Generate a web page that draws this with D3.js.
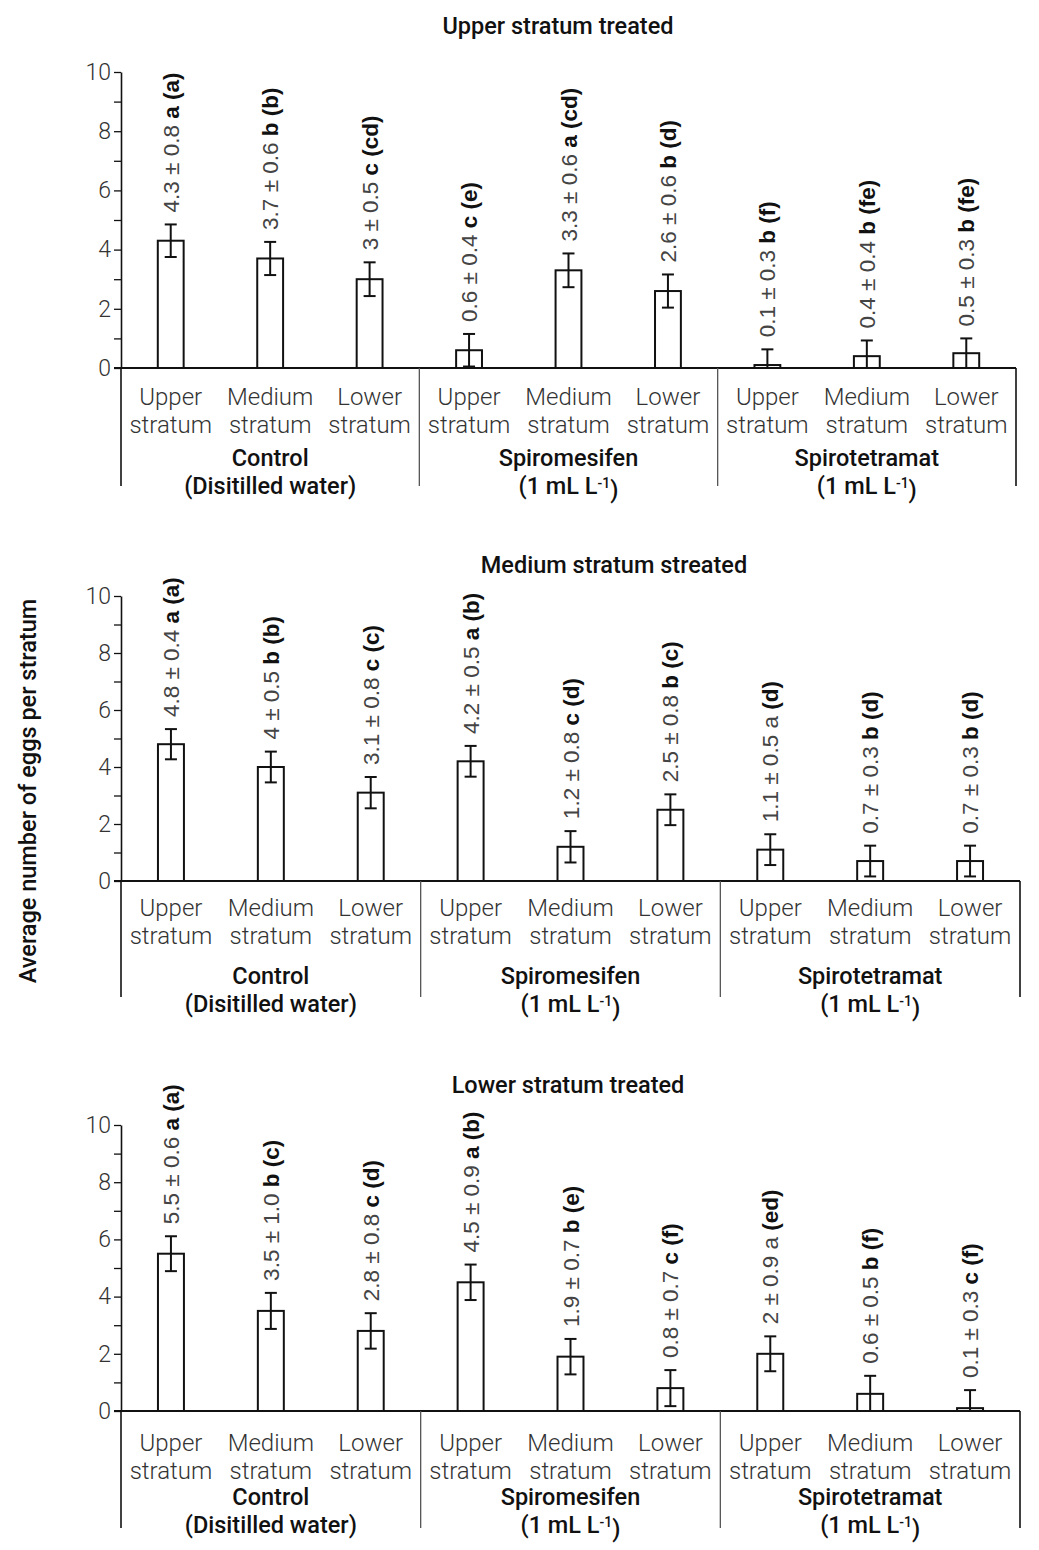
<!DOCTYPE html>
<html><head><meta charset="utf-8">
<script src="https://cdn.jsdelivr.net/npm/d3@7"></script>
<style>body{margin:0;background:#fff}</style>
</head><body>
<svg id="chart" width="1039" height="1550"></svg>
<script>
// ---------- data ----------
const panelTitles = ["Upper stratum treated", "Medium stratum streated", "Lower stratum treated"];
const strataLine1 = ["Upper", "Medium", "Lower"];
const strataLine2 = ["stratum", "stratum", "stratum"];
const treatmentNames = ["Control", "Spiromesifen", "Spirotetramat"];
const treatmentNotes = ["(Disitilled water)", "(1 mL L^-1)", "(1 mL L^-1)"];
const yTickValues = [0, 1, 2, 3, 4, 5, 6, 7, 8, 9, 10];
const yTickLabels = ["0", "", "2", "", "4", "", "6", "", "8", "", "10"];
const yAxisTitle = "Average number of eggs per stratum";

// Upper stratum treated
const meansUpper = [4.3, 3.7, 3, 0.6, 3.3, 2.6, 0.1, 0.4, 0.5];
const sdUpper = ["0.8", "0.6", "0.5", "0.4", "0.6", "0.6", "0.3", "0.4", "0.3"];
const lettersUpper = ["a", "b", "c", "c", "a", "b", "b", "b", "b"];
const groupsUpper = ["(a)", "(b)", "(cd)", "(e)", "(cd)", "(d)", "(f)", "(fe)", "(fe)"];
const boldUpper = [true, true, true, true, true, true, true, true, true];
const errBarUpper = [0.55, 0.56, 0.57, 0.55, 0.57, 0.56, 0.53, 0.53, 0.5];

// Medium stratum treated
const meansMedium = [4.8, 4, 3.1, 4.2, 1.2, 2.5, 1.1, 0.7, 0.7];
const sdMedium = ["0.4", "0.5", "0.8", "0.5", "0.8", "0.8", "0.5", "0.3", "0.3"];
const lettersMedium = ["a", "b", "c", "a", "c", "b", "a", "b", "b"];
const groupsMedium = ["(a)", "(b)", "(c)", "(b)", "(d)", "(c)", "(d)", "(d)", "(d)"];
const boldMedium = [true, true, true, true, true, true, false, true, true];
const errBarMedium = [0.53, 0.54, 0.55, 0.54, 0.55, 0.54, 0.54, 0.54, 0.54];

// Lower stratum treated
const meansLower = [5.5, 3.5, 2.8, 4.5, 1.9, 0.8, 2, 0.6, 0.1];
const sdLower = ["0.6", "1.0", "0.8", "0.9", "0.7", "0.7", "0.9", "0.5", "0.3"];
const lettersLower = ["a", "b", "c", "a", "b", "c", "a", "b", "c"];
const groupsLower = ["(a)", "(c)", "(d)", "(b)", "(e)", "(f)", "(ed)", "(f)", "(f)"];
const boldLower = [true, true, true, true, true, true, false, true, true];
const errBarLower = [0.61, 0.63, 0.62, 0.62, 0.62, 0.63, 0.61, 0.63, 0.63];

// ---------- layout ----------
const panels = [
  {title: panelTitles[0], means: meansUpper, sd: sdUpper, letters: lettersUpper, groups: groupsUpper, bold: boldUpper, err: errBarUpper,
   left: 121, right: 1016, yTop: 72, yBase: 368, titleX: 558, titleY: 34, catDy: 37, grpDy: 98, sepDy: 118},
  {title: panelTitles[1], means: meansMedium, sd: sdMedium, letters: lettersMedium, groups: groupsMedium, bold: boldMedium, err: errBarMedium,
   left: 121, right: 1020, yTop: 596, yBase: 881, titleX: 614, titleY: 573, catDy: 35, grpDy: 103, sepDy: 116},
  {title: panelTitles[2], means: meansLower, sd: sdLower, letters: lettersLower, groups: groupsLower, bold: boldLower, err: errBarLower,
   left: 121, right: 1020, yTop: 1125, yBase: 1411, titleX: 568, titleY: 1093, catDy: 40, grpDy: 94, sepDy: 117}
];

const svg = d3.select("#chart");
const FONT = "Roboto, 'Noto Sans', sans-serif";
const LFONT = "'Liberation Sans', Arial, sans-serif";

panels.forEach(p => {
  const g = svg.append("g");
  const idx = d3.range(p.means.length);
  const x = d3.scaleBand().domain(idx).range([p.left, p.right]).paddingInner(0.74).paddingOuter(0.37);
  const y = d3.scaleLinear().domain([0, 10]).range([p.yBase, p.yTop]);
  const step = x.step();

  // title
  g.append("text").attr("x", p.titleX).attr("y", p.titleY).attr("text-anchor", "middle")
    .style("font-family", FONT).style("font-weight", 500).style("font-size", "23.5px").attr("fill", "#111")
    .text(p.title);

  // y axis
  const ax = g.append("g").attr("transform", `translate(${p.left},0)`)
    .call(d3.axisLeft(y).tickValues(yTickValues).tickSize(7).tickSizeOuter(0).tickPadding(3)
      .tickFormat((d, i) => yTickLabels[i]));
  ax.select(".domain").attr("stroke", "#111").attr("stroke-width", 1.6);
  ax.selectAll(".tick line").attr("stroke", "#111").attr("stroke-width", 1.3);
  ax.selectAll(".tick text").style("font-family", FONT).style("font-weight", 300)
    .style("font-size", "23px").attr("fill", "#333");

  // baseline
  g.append("line").attr("x1", p.left - 7).attr("x2", p.right).attr("y1", y(0)).attr("y2", y(0))
    .attr("stroke", "#111").attr("stroke-width", 2);

  // group separators
  d3.range(4).forEach(k => {
    const sx = p.left + k * 3 * step;
    g.append("line").attr("x1", sx).attr("x2", sx).attr("y1", y(0)).attr("y2", y(0) + p.sepDy)
      .attr("stroke", (k === 0 || k === 3) ? "#111" : "#555").attr("stroke-width", (k === 0 || k === 3) ? 1.6 : 1.3);
  });

  // bars
  g.selectAll("rect.bar").data(idx).join("rect").attr("class", "bar")
    .attr("x", i => x(i)).attr("width", x.bandwidth())
    .attr("y", i => y(p.means[i])).attr("height", i => y(0) - y(p.means[i]))
    .attr("fill", "#fff").attr("stroke", "#111").attr("stroke-width", 2);

  // error bars
  const cap = 6;
  idx.forEach(i => {
    const cx = x(i) + x.bandwidth() / 2;
    const lo = Math.max(0, p.means[i] - p.err[i]);
    const hi = p.means[i] + p.err[i];
    g.append("line").attr("x1", cx).attr("x2", cx).attr("y1", y(lo)).attr("y2", y(hi))
      .attr("stroke", "#111").attr("stroke-width", 2);
    g.append("line").attr("x1", cx - cap).attr("x2", cx + cap).attr("y1", y(hi)).attr("y2", y(hi))
      .attr("stroke", "#111").attr("stroke-width", 2);
    g.append("line").attr("x1", cx - cap).attr("x2", cx + cap).attr("y1", y(lo)).attr("y2", y(lo))
      .attr("stroke", "#111").attr("stroke-width", 2);

    // rotated value label
    const ly = y(hi) - 12;
    const t = g.append("text").attr("transform", `translate(${cx},${ly}) rotate(-90)`)
      .attr("dy", "0.36em").style("font-family", LFONT).style("font-size", "22.5px");
    t.append("tspan").attr("fill", "#444").text(`${p.means[i]} ± ${p.sd[i]} `);
    t.append("tspan").attr("fill", p.bold[i] ? "#111" : "#444").style("font-weight", p.bold[i] ? 700 : 400)
      .text(p.letters[i]);
    t.append("tspan").attr("fill", "#111").style("font-weight", 700).text(" " + p.groups[i]);
  });

  // category labels
  idx.forEach(i => {
    const cx = x(i) + x.bandwidth() / 2;
    const k = i % 3;
    [strataLine1[k], strataLine2[k]].forEach((s, j) => {
      g.append("text").attr("x", cx).attr("y", y(0) + p.catDy + j * 28).attr("text-anchor", "middle")
        .style("font-family", FONT).style("font-weight", 300).style("font-size", "24px").attr("fill", "#333")
        .text(s);
    });
  });

  // treatment labels
  treatmentNames.forEach((name, k) => {
    const cx = p.left + (k * 3 + 1.5) * step;
    g.append("text").attr("x", cx).attr("y", y(0) + p.grpDy).attr("text-anchor", "middle")
      .style("font-family", FONT).style("font-weight", 500).style("font-size", "23.5px").attr("fill", "#111")
      .text(name);
    const note = treatmentNotes[k];
    const t = g.append("text").attr("x", cx).attr("y", y(0) + p.grpDy + 28).attr("text-anchor", "middle")
      .style("font-family", FONT).style("font-weight", 500).style("font-size", "23.5px").attr("fill", "#111");
    const m = note.match(/^(.*)\^(\S+?)\)$/);
    if (m) {
      t.append("tspan").text(m[1]);
      t.append("tspan").attr("dy", "-0.45em").style("font-size", "14px").text(m[2]);
      t.append("tspan").attr("dy", "0.45em").text(")");
    } else {
      t.text(note);
    }
  });
});

// y axis title
svg.append("text").attr("transform", "translate(28,791) rotate(-90)").attr("text-anchor", "middle")
  .attr("dy", "0.36em").style("font-family", FONT).style("font-weight", 500).style("font-size", "23.5px")
  .attr("fill", "#111").text(yAxisTitle);
</script>
</body></html>
